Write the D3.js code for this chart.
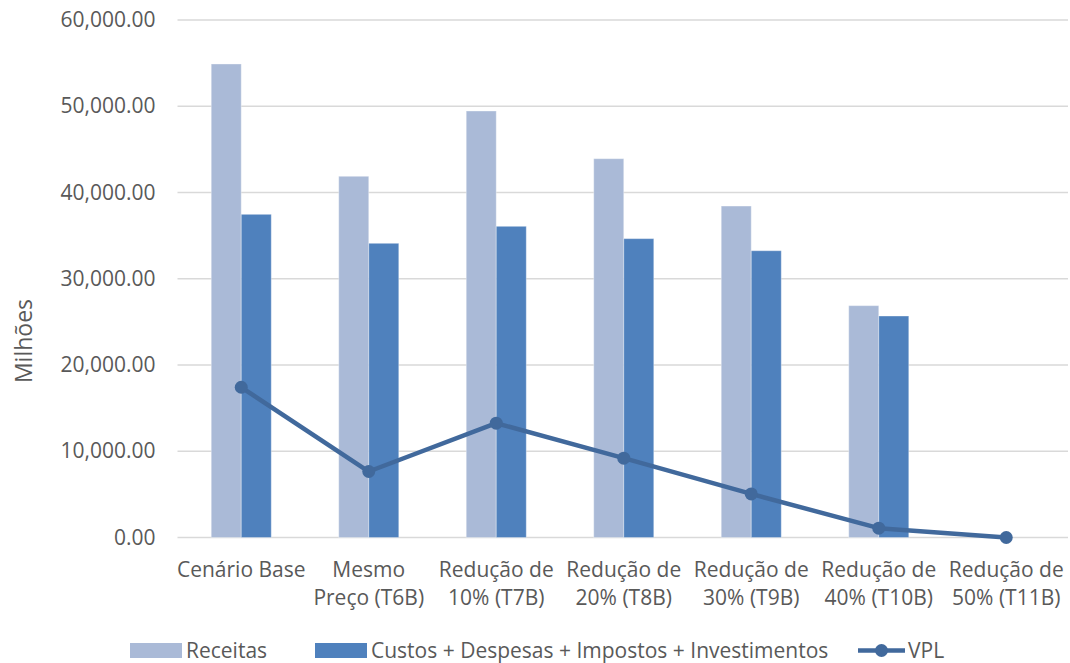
<!DOCTYPE html>
<html>
<head>
<meta charset="utf-8">
<script src="https://cdn.jsdelivr.net/npm/d3@7"></script>
<style>
  html, body { margin: 0; padding: 0; background: #fff; }
  svg { display: block; }
</style>
</head>
<body>
<svg id="chart" width="1070" height="663"></svg>
<script>
// Scenario categories (two-line labels)
const categories = [
  ["Cenário Base"],
  ["Mesmo", "Preço (T6B)"],
  ["Redução de", "10% (T7B)"],
  ["Redução de", "20% (T8B)"],
  ["Redução de", "30% (T9B)"],
  ["Redução de", "40% (T10B)"],
  ["Redução de", "50% (T11B)"]
];
const seriesNames = ["Receitas", "Custos + Despesas + Impostos + Investimentos", "VPL"];
const receitas = [54900, 41880, 49450, 43920, 38430, 26880, 0];
const custos   = [37470, 34110, 36080, 34650, 33250, 25680, 0];
const vpl      = [17420, 7650, 13250, 9200, 5050, 1080, 0];
const yTicks   = [0, 10000, 20000, 30000, 40000, 50000, 60000];
const yTitle   = "Milhões";

const colors = { receitas: "#AABAD7", custos: "#4F81BD", vpl: "#41699C" };

const svg = d3.select("#chart");
const plot = { left: 177.5, right: 1070, top: 20, bottom: 537.5 };

const keys = categories.map((c, i) => i);
const x = d3.scaleBand().domain(keys).range([plot.left, plot.right])
  .paddingInner(0.529).paddingOuter(0.2645);
const xSub = d3.scaleBand().domain([0, 1]).range([0, x.bandwidth()]);
const y = d3.scaleLinear().domain([0, 60000]).range([plot.bottom, plot.top]);

// Horizontal gridlines
svg.append("g").selectAll("line").data(yTicks).join("line")
  .attr("x1", plot.left).attr("x2", 1068)
  .attr("y1", d => y(d)).attr("y2", d => y(d))
  .attr("stroke", "#D9D9D9").attr("stroke-width", 1.5);

// Y axis labels
const yAxis = d3.axisLeft(y).tickValues(yTicks).tickFormat(d3.format(",.2f"))
  .tickSize(0).tickPadding(22);
const gy = svg.append("g").attr("transform", `translate(${plot.left},0)`).call(yAxis);
gy.select(".domain").remove();
gy.selectAll("text")
  .attr("font-family", "'Open Sans', sans-serif")
  .attr("font-size", 21)
  .attr("fill", "#595959");

// Y axis title
svg.append("text")
  .attr("transform", "translate(32,341) rotate(-90)")
  .attr("text-anchor", "middle")
  .attr("font-family", "'Open Sans', sans-serif")
  .attr("font-size", 23)
  .attr("fill", "#595959")
  .text(yTitle);

// Bars
const barData = [receitas, custos];
const barColors = [colors.receitas, colors.custos];
barData.forEach((vals, s) => {
  svg.append("g").selectAll("rect").data(vals).join("rect")
    .attr("x", (d, i) => x(i) + xSub(s))
    .attr("width", xSub.bandwidth())
    .attr("y", d => y(d))
    .attr("height", d => y(0) - y(d))
    .attr("fill", barColors[s])
    .attr("stroke", "rgba(255,255,255,0.35)")
    .attr("stroke-width", 1);
});

// VPL line with markers
const cx = i => x(i) + x.bandwidth() / 2;
const line = d3.line().x((d, i) => cx(i)).y(d => y(d));
svg.append("path").datum(vpl)
  .attr("d", line)
  .attr("fill", "none")
  .attr("stroke", colors.vpl)
  .attr("stroke-width", 4.5)
  .attr("stroke-linejoin", "round");
svg.append("g").selectAll("circle").data(vpl).join("circle")
  .attr("cx", (d, i) => cx(i)).attr("cy", d => y(d))
  .attr("r", 6.5).attr("fill", colors.vpl);

// X category labels
const xl = svg.append("g");
categories.forEach((lines, i) => {
  const t = xl.append("text")
    .attr("text-anchor", "middle")
    .attr("font-family", "'Open Sans', sans-serif")
    .attr("font-size", 21)
    .attr("fill", "#595959");
  lines.forEach((ln, j) => {
    t.append("tspan").attr("x", cx(i)).attr("y", 577 + j * 28).text(ln);
  });
});

// Legend
const lg = svg.append("g")
  .attr("font-family", "'Open Sans', sans-serif")
  .attr("font-size", 21).attr("fill", "#595959");
lg.append("rect").attr("x", 130).attr("y", 643).attr("width", 52).attr("height", 15).attr("fill", colors.receitas);
lg.append("text").attr("x", 186).attr("y", 658).text(seriesNames[0]);
lg.append("rect").attr("x", 315).attr("y", 643).attr("width", 52).attr("height", 15).attr("fill", colors.custos);
lg.append("text").attr("x", 371).attr("y", 658).text(seriesNames[1]);
lg.append("line").attr("x1", 858).attr("x2", 905).attr("y1", 650.5).attr("y2", 650.5)
  .attr("stroke", colors.vpl).attr("stroke-width", 4.5);
lg.append("circle").attr("cx", 881.5).attr("cy", 650.5).attr("r", 6.5).attr("fill", colors.vpl);
lg.append("text").attr("x", 908).attr("y", 658).text(seriesNames[2]);
</script>
</body>
</html>
